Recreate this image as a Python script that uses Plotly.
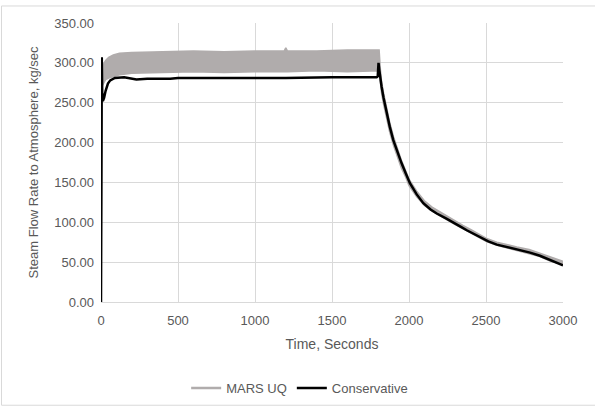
import plotly.graph_objects as go

# ---- data ----
t_band = [0, 3, 6, 10, 20, 30, 50, 80, 120, 200, 400, 600, 800, 1000, 1190, 1200, 1210,
          1400, 1600, 1806, 1814, 1822, 1835, 1855, 1875, 1900, 1925, 1950, 1980, 2000,
          2050, 2100, 2150, 2200, 2250, 2300, 2350, 2400, 2450, 2500, 2570, 2630, 2700,
          2780, 2850, 2920, 3000]
mars_upper = [0, 285, 292, 296, 300, 303, 307, 310, 312, 313, 314, 315, 314, 315, 315, 319, 315,
              315, 316, 316, 292, 276, 262, 242, 225, 207, 192, 178, 164, 154,
              139, 127, 119, 113, 107, 101, 96, 91, 86, 80, 75, 72, 69,
              66, 61, 56, 51]
mars_lower = [0, 262, 268, 272, 276, 279, 281, 283, 285, 287, 288, 289, 288, 289, 289, 289, 289,
              290, 289, 290, 272, 262, 248, 229, 213, 196, 182, 168, 156, 146,
              132, 121, 114, 108, 103, 97, 92, 87, 82, 76, 71, 68, 65,
              61, 57, 51, 47]

t_cons = [0, 2, 5, 8, 12, 20, 30, 45, 60, 90, 150, 230, 300, 450, 500, 800, 1200, 1500,
          1790, 1797, 1802, 1808, 1815, 1822, 1835, 1855, 1875, 1898, 1925, 1952, 1980,
          2006, 2050, 2093, 2140, 2180, 2240, 2299, 2340, 2375, 2450, 2515, 2570, 2634,
          2700, 2786, 2850, 2920, 3000]
conservative = [0, 305, 307, 262, 252, 256, 265, 274, 278, 281, 282, 279, 280, 280, 281, 281, 281, 282,
                282, 283, 300, 290, 278, 270, 256, 237, 220, 203, 188, 174, 161,
                149, 135, 124, 116, 111, 105, 99, 94, 90, 83, 76, 72, 69,
                66, 62, 58, 52, 46]

x_ticks = [0, 500, 1000, 1500, 2000, 2500, 3000]
y_ticks = [0, 50, 100, 150, 200, 250, 300, 350]

GRAY = "#B0ACAC"
TXT = "#595959"
FONT = "Liberation Sans"

fig = go.Figure()
fig.add_trace(go.Scatter(x=t_band, y=mars_lower, mode="lines",
                         line=dict(color=GRAY, width=1.5), showlegend=False, hoverinfo="skip"))
fig.add_trace(go.Scatter(x=t_band, y=mars_upper, mode="lines", fill="tonexty",
                         fillcolor=GRAY, line=dict(color=GRAY, width=1.5),
                         showlegend=False, hoverinfo="skip"))
# legend entry for the band
fig.add_trace(go.Scatter(x=[None], y=[None], mode="lines", name="MARS UQ",
                         line=dict(color=GRAY, width=2.5)))
fig.add_trace(go.Scatter(x=t_cons, y=conservative, mode="lines", name="Conservative",
                         line=dict(color="black", width=2.5)))

fig.update_layout(
    width=595, height=409,
    margin=dict(l=101, r=32, t=23, b=107, autoexpand=False),
    paper_bgcolor="white", plot_bgcolor="white",
    font=dict(family=FONT, size=13, color=TXT),
    showlegend=True,
    legend=dict(orientation="h", x=0.43, xanchor="center", y=-0.255, yanchor="top",
                traceorder="normal", font=dict(size=13, color=TXT), itemwidth=30),
    xaxis=dict(range=[0, 3000], tickvals=x_ticks, showgrid=True, gridcolor="#D9D9D9",
               gridwidth=1, zeroline=False, showline=True, linecolor="#D9D9D9",
               ticks="", ticklabelstandoff=6, automargin=False,
               title=dict(text="Time, Seconds", standoff=12,
                          font=dict(size=14, color=TXT))),
    yaxis=dict(range=[0, 350], tickvals=y_ticks, tickformat=".2f", showgrid=True,
               gridcolor="#D9D9D9", gridwidth=1, zeroline=False, showline=False,
               ticks="", ticklabelstandoff=6, automargin=False,
               title=dict(text="Steam Flow Rate to Atmosphere, kg/sec", standoff=12,
                          font=dict(size=13, color=TXT))),
    shapes=[dict(type="rect", xref="paper", yref="paper", x0=-0.2154, x1=1.2,
                 y0=-0.37, y1=1.061, line=dict(color="#D9D9D9", width=1), layer="below")],
)

fig.write_html("out.html")
